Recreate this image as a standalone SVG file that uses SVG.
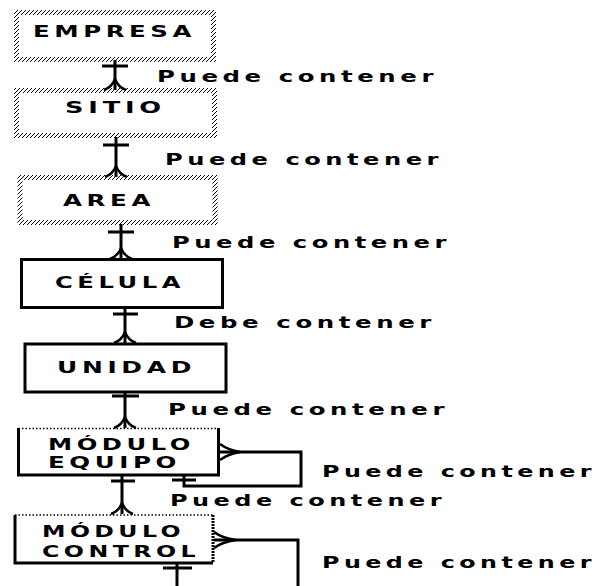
<svg xmlns="http://www.w3.org/2000/svg" width="604" height="586" viewBox="0 0 604 586">
  <defs>
    <pattern id="hatch" patternUnits="userSpaceOnUse" width="4" height="4">
      <path d="M-1,1 L1,-1 M0,4 L4,0 M3,5 L5,3" stroke="#000" stroke-width="1"/>
    </pattern>
  </defs>
  <style>
    text { font-family: "DejaVu Sans", "Liberation Sans", sans-serif; font-weight: bold; font-size: 16px; fill: #000; letter-spacing: 3px; }
    .hbox { fill: #fff; stroke: url(#hatch); stroke-width: 5; }
    .sbox { fill: #fff; stroke: #000; stroke-width: 3; }
    .edge { fill: none; stroke: #000; stroke-width: 3; }
    .foot { fill: none; stroke: #000; stroke-width: 2.5; }
    .dot { fill: none; stroke: #000; stroke-width: 1.5; stroke-dasharray: 1.5 2; }
  </style>
  <rect width="604" height="586" fill="#fff"/>

  <!-- entities -->
  <g id="empresa">
    <rect class="hbox" x="16.5" y="12.5" width="197" height="47"/>
    <text x="33" y="37" textLength="163" lengthAdjust="spacingAndGlyphs">EMPRESA</text>
  </g>
  <g id="sitio">
    <rect class="hbox" x="16.5" y="90.5" width="198" height="45"/>
    <text x="65" y="113" textLength="101" lengthAdjust="spacingAndGlyphs">SITIO</text>
  </g>
  <g id="area">
    <rect class="hbox" x="20" y="177.5" width="195" height="45"/>
    <text x="63" y="206" textLength="92" lengthAdjust="spacingAndGlyphs">AREA</text>
  </g>
  <g id="celula">
    <rect class="sbox" x="21.5" y="259.5" width="201" height="48"/>
    <text x="55" y="288" textLength="130" lengthAdjust="spacingAndGlyphs">CÉLULA</text>
  </g>
  <g id="unidad">
    <rect class="sbox" x="25" y="344" width="201" height="48"/>
    <text x="57" y="373" textLength="139" lengthAdjust="spacingAndGlyphs">UNIDAD</text>
  </g>
  <g id="modulo-equipo">
    <rect x="18.5" y="428" width="200" height="47" fill="#fff"/>
    <line class="dot" x1="18.5" y1="428.5" x2="218.5" y2="428.5"/>
    <path class="edge" d="M18.5,428 V475 H218.5 V428" stroke-width="2.5"/>
    <text x="48" y="450" textLength="147" lengthAdjust="spacingAndGlyphs">MÓDULO</text>
    <text x="48" y="468" textLength="133" lengthAdjust="spacingAndGlyphs">EQUIPO</text>
  </g>
  <g id="modulo-control">
    <rect x="15" y="515" width="198" height="48" fill="#fff"/>
    <line class="dot" x1="15" y1="515" x2="213" y2="515"/>
    <path class="edge" d="M213,563 H15 V515"/>
    <line x1="213" y1="515" x2="213" y2="563" stroke="#000" stroke-width="3" stroke-dasharray="2 1"/>
    <text x="42" y="537" textLength="143" lengthAdjust="spacingAndGlyphs">MÓDULO</text>
    <text x="42" y="557" textLength="158" lengthAdjust="spacingAndGlyphs">CONTROL</text>
  </g>

  <!-- relationships -->
  <g id="connectors">
    <!-- empresa - sitio -->
    <path class="edge" d="M115,60 V90 M102,66 H128"/>
    <path class="foot" d="M115,79 Q112,87 104,90 M115,79 Q118,87 126,90"/>
    <!-- sitio - area -->
    <path class="edge" d="M116,137 V177 M103,145 H129"/>
    <path class="foot" d="M116,166 Q113,174 105,177 M116,166 Q119,174 127,177"/>
    <!-- area - celula -->
    <path class="edge" d="M121,224 V259 M108,232 H134"/>
    <path class="foot" d="M121,248 Q118,256 110,259 M121,248 Q124,256 132,259"/>
    <!-- celula - unidad -->
    <path class="edge" d="M125,309 V343 M113,314 H138"/>
    <path class="foot" d="M125,332 Q122,340 114,343 M125,332 Q128,340 136,343"/>
    <!-- unidad - modulo equipo -->
    <path class="edge" d="M125,393 V428 M112,396 H139"/>
    <path class="foot" d="M125,417 Q122,425 114,428 M125,417 Q128,425 136,428"/>
    <!-- modulo equipo - modulo control -->
    <path class="edge" d="M122,476 V514 M111,481 H135"/>
    <path class="foot" d="M122,503 Q119,511 111,514 M122,503 Q125,511 133,514"/>
    <!-- modulo equipo self relation -->
    <path class="edge" d="M219,452 H301 V486 H184 V476 M172,480 H196"/>
    <path class="foot" d="M220,444 Q228,450 240,452 M220,460 Q228,454 240,452"/>
    <!-- modulo control self relation -->
    <path class="edge" d="M214,540 H298 V586 M177,564 V586 M163,568 H192"/>
    <path class="foot" d="M214,532 Q222,538 236,540 M214,548 Q222,542 236,540"/>
  </g>

  <!-- relationship labels -->
  <g id="labels">
    <text x="157" y="82" textLength="281" lengthAdjust="spacingAndGlyphs">Puede contener</text>
    <text x="165" y="165" textLength="278" lengthAdjust="spacingAndGlyphs">Puede contener</text>
    <text x="172" y="248" textLength="279" lengthAdjust="spacingAndGlyphs">Puede contener</text>
    <text x="174" y="328" textLength="262" lengthAdjust="spacingAndGlyphs">Debe contener</text>
    <text x="168" y="415" textLength="281" lengthAdjust="spacingAndGlyphs">Puede contener</text>
    <text x="170" y="506" textLength="276" lengthAdjust="spacingAndGlyphs">Puede contener</text>
    <text x="322" y="477" textLength="274" lengthAdjust="spacingAndGlyphs">Puede contener</text>
    <text x="322" y="568" textLength="274" lengthAdjust="spacingAndGlyphs">Puede contener</text>
  </g>
</svg>
